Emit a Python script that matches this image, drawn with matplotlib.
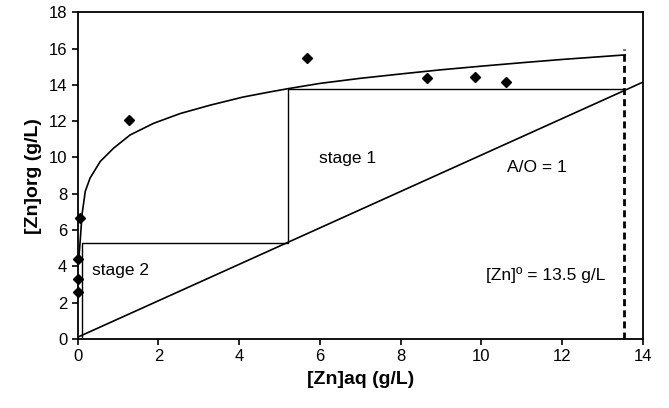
import matplotlib

matplotlib.use("Agg")

import matplotlib.pyplot as plt

plt.rcParams["font.family"] = ["Liberation Sans", "DejaVu Sans"]

# experimental equilibrium points
exp_aq = [0.0, 0.0, 0.02, 0.07, 1.28, 5.68, 8.65, 9.84, 10.62]
exp_org = [2.6, 3.3, 4.4, 6.67, 12.09, 15.5, 14.36, 14.45, 14.14]

# fitted equilibrium isotherm
curve_aq = [0.03, 0.07, 0.11, 0.19, 0.31, 0.56, 0.89, 1.30, 1.88, 2.54,
            3.28, 4.10, 4.76, 5.21, 6.0, 7.0, 8.0, 9.0, 10.0, 11.0,
            12.0, 13.0, 13.56]
curve_org = [4.41, 5.6, 6.87, 8.14, 8.87, 9.78, 10.51, 11.24, 11.88, 12.42,
             12.88, 13.33, 13.61, 13.79, 14.08, 14.36, 14.6, 14.83, 15.03, 15.22,
             15.4, 15.56, 15.65]

# operating line A/O = 1
op_aq = [0.0, 14.0]
op_org = [0.1, 14.15]

# McCabe-Thiele stage steps
step_aq = [13.52, 5.21, 5.21, 0.116, 0.116]
step_org = [13.77, 13.77, 5.29, 5.29, 0.1]

feed_aq = 13.52
feed_top = 16.0

fig, ax = plt.subplots(figsize=(6.69, 4.08), dpi=100)
fig.subplots_adjust(left=0.116, right=0.961, top=0.97, bottom=0.169)

ax.plot(curve_aq, curve_org, color="black", lw=1.2)
ax.plot(op_aq, op_org, color="black", lw=1.2)
ax.plot(step_aq, step_org, color="black", lw=1.0)
ax.plot([feed_aq, feed_aq], [0, feed_top], color="black", lw=2.0, ls=(0, (2.5, 1.5)))
ax.plot(exp_aq, exp_org, ls="none", marker="D", ms=5, color="black", clip_on=False, zorder=5)

ax.text(1.05, 3.8, "stage 2", ha="center", va="center", fontsize=12.5)
ax.text(6.68, 9.95, "stage 1", ha="center", va="center", fontsize=12.5)
ax.text(11.38, 9.47, "A/O = 1", ha="center", va="center", fontsize=12.5)
ax.text(11.59, 3.52, "[Zn]º = 13.5 g/L", ha="center", va="center", fontsize=12.5)

ax.set_xlim(0, 14)
ax.set_ylim(0, 18)
ax.set_xticks(range(0, 15, 2))
ax.set_yticks(range(0, 19, 2))
ax.tick_params(direction="out", length=4, width=1.2, labelsize=12, colors="black")
for spine in ax.spines.values():
    spine.set_linewidth(1.3)

ax.set_xlabel("[Zn]aq (g/L)", fontsize=14, fontweight="bold", labelpad=5)
ax.set_ylabel("[Zn]org (g/L)", fontsize=14, fontweight="bold", labelpad=5)

fig.savefig("out.png", dpi=100)
